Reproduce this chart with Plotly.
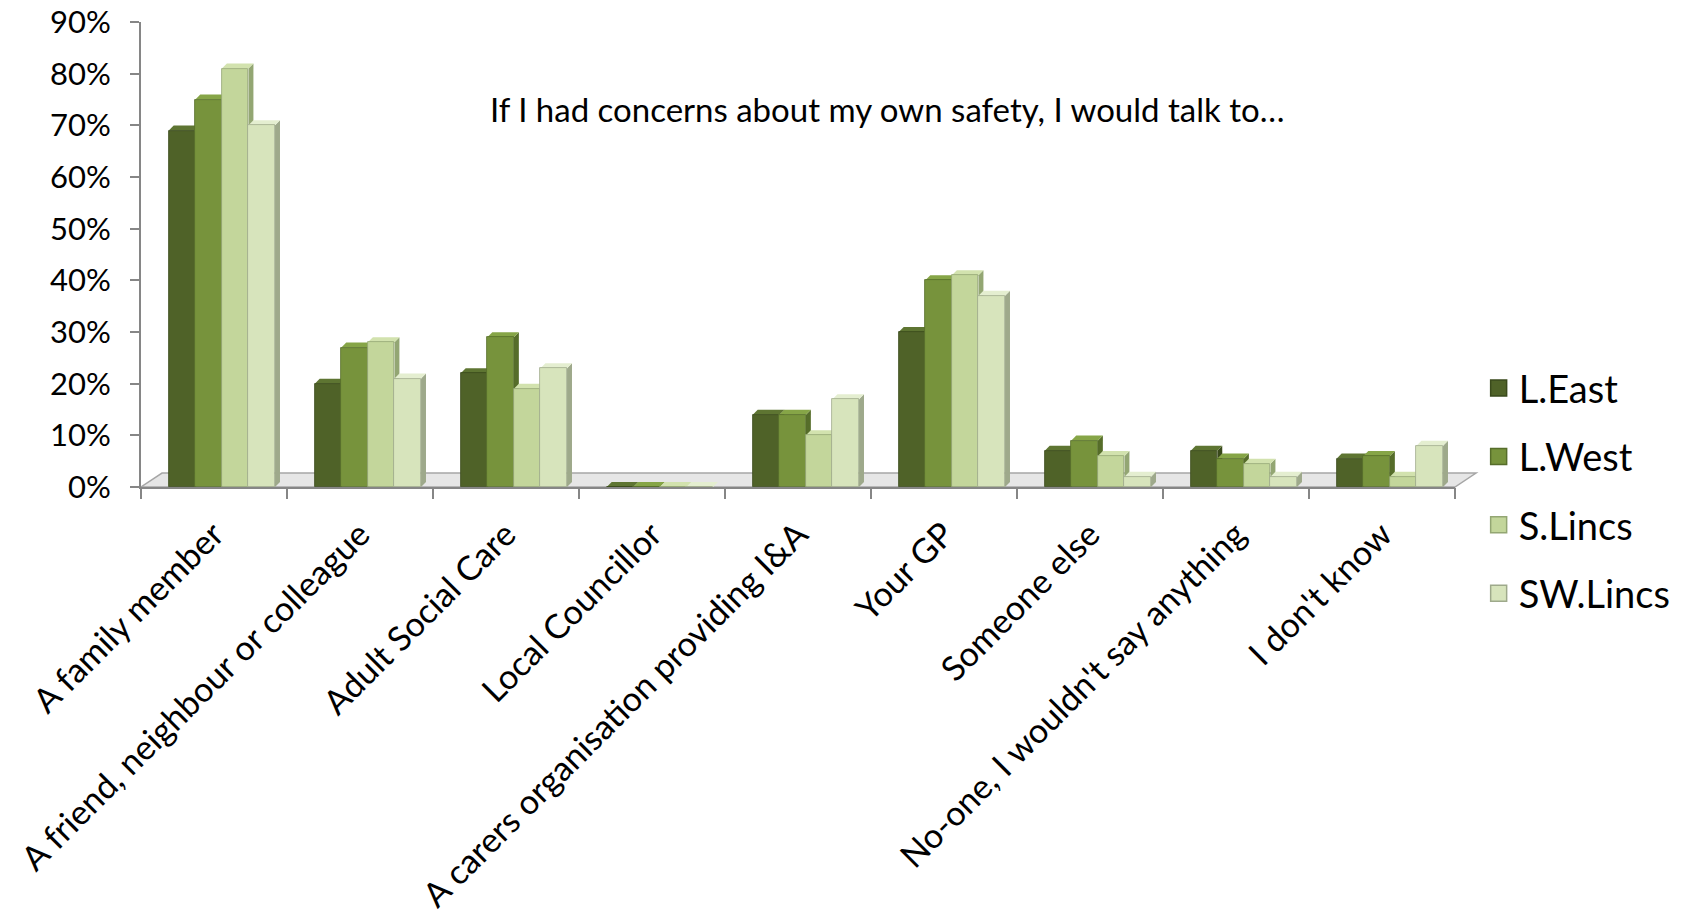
import plotly.graph_objects as go

# Survey responses: "If I had concerns about my own safety, I would talk to..."
categories = [
    "A family member",
    "A friend, neighbour or colleague",
    "Adult Social Care",
    "Local Councillor",
    "A carers organisation providing I&A",
    "Your GP",
    "Someone else",
    "No-one, I wouldn't say anything",
    "I don't know",
]
series_names = ["L.East", "L.West", "S.Lincs", "SW.Lincs"]
l_east = [0.69, 0.20, 0.22, 0.00, 0.14, 0.30, 0.07, 0.07, 0.055]
l_west = [0.75, 0.27, 0.29, 0.00, 0.14, 0.40, 0.09, 0.055, 0.06]
s_lincs = [0.81, 0.28, 0.19, 0.00, 0.10, 0.41, 0.06, 0.045, 0.02]
sw_lincs = [0.70, 0.21, 0.23, 0.00, 0.17, 0.37, 0.02, 0.02, 0.08]
series_values = [l_east, l_west, s_lincs, sw_lincs]
y_ticks = [0.0, 0.1, 0.2, 0.3, 0.4, 0.5, 0.6, 0.7, 0.8, 0.9]
y_tick_labels = ["0%", "10%", "20%", "30%", "40%", "50%", "60%", "70%", "80%", "90%"]

# front, side and top face colours for each series
front_colors = ["#4f6228", "#77933c", "#c3d69b", "#d7e4bc"]
side_colors = ["#3a4a1c", "#566d2a", "#93a673", "#9ea98b"]
top_colors = ["#5e7532", "#86a547", "#d2e2ae", "#e4eed0"]

FONT = "Lato"
BAR_W = 0.182          # width of one column in category units
GROUP_START = -0.31    # left edge of the first column relative to category centre
DEPTH_X = 0.034        # oblique depth of each column (category units)
DEPTH_Y = 0.0096       # oblique depth of each column (value units)

fig = go.Figure()
x_idx = list(range(len(categories)))

shapes = []
# floor slab under the columns
shapes.append(dict(
    type="path", xref="paper", yref="paper",
    path="M 0,0 L 1,0 L 1.016,0.03 L 0.016,0.03 Z",
    fillcolor="#e6e6e6", line=dict(color="#a6a6a6", width=1.5), layer="below",
))

for k, (name, vals) in enumerate(zip(series_names, series_values)):
    offset = GROUP_START + k * BAR_W
    fig.add_trace(go.Bar(
        x=x_idx, y=vals, name=name,
        width=BAR_W, offset=offset,
        marker=dict(color=front_colors[k], line=dict(color=side_colors[k], width=0.8)),
        legendgroup=name, showlegend=False,
        hovertemplate="%{y:.0%}<extra>" + name + "</extra>",
    ))
    # legend key drawn as a larger square swatch
    fig.add_trace(go.Scatter(
        x=[None], y=[None], mode="markers", name=name, legendgroup=name,
        marker=dict(symbol="square", size=22, color=front_colors[k],
                    line=dict(color=side_colors[k], width=1.5)),
        showlegend=True, hoverinfo="skip",
    ))
    # side and top faces give the columns their depth
    for i, v in zip(x_idx, vals):
        xl = i + offset
        xr = xl + BAR_W
        shapes.append(dict(
            type="path", xref="x", yref="y", layer="below",
            path=f"M {xr},0 L {xr + DEPTH_X},{DEPTH_Y} L {xr + DEPTH_X},{v + DEPTH_Y} L {xr},{v} Z",
            fillcolor=side_colors[k], line=dict(width=0),
        ))
        shapes.append(dict(
            type="path", xref="x", yref="y", layer="below",
            path=f"M {xl},{v} L {xl + DEPTH_X},{v + DEPTH_Y} L {xr + DEPTH_X},{v + DEPTH_Y} L {xr},{v} Z",
            fillcolor=top_colors[k], line=dict(width=0),
        ))

fig.update_layout(
    width=1690, height=919,
    margin=dict(l=141, r=235, t=22, b=432),
    paper_bgcolor="white", plot_bgcolor="white",
    font=dict(family=FONT, color="black"),
    barmode="group", bargap=0, bargroupgap=0,
    shapes=shapes,
    showlegend=True,
    legend=dict(
        x=1.018, y=0.28, xanchor="left", yanchor="top",
        font=dict(size=38, family=FONT),
        tracegroupgap=16, itemclick=False, itemsizing="trace",
    ),
    annotations=[dict(
        text="If I had concerns about my own safety, I would talk to…",
        xref="paper", yref="paper", x=0.568, y=0.812,
        xanchor="center", yanchor="middle", showarrow=False,
        font=dict(size=33, family=FONT, color="black"),
    )],
)

fig.update_xaxes(
    type="linear", range=[-0.5, len(categories) - 0.5],
    tickmode="array", tickvals=x_idx, ticktext=categories,
    tickangle=-45, tickfont=dict(size=34, family=FONT), ticklabelstandoff=12,
    ticklabeloverflow="allow",
    showline=True, linecolor="#868686", linewidth=2,
    ticks="", showgrid=False, zeroline=False, automargin=False,
)
# category boundary tick marks on a matching overlay axis
fig.update_layout(xaxis2=dict(
    overlaying="x", matches="x", side="bottom", anchor="y",
    tickmode="array", tickvals=[i - 0.5 for i in range(len(categories) + 1)],
    ticks="outside", ticklen=11, tickwidth=2, tickcolor="#868686",
    showticklabels=False, showgrid=False, zeroline=False, showline=False,
    automargin=False,
))
fig.add_trace(go.Scatter(x=[0], y=[0], xaxis="x2", yaxis="y", mode="none",
                         showlegend=False, hoverinfo="skip"))

fig.update_yaxes(
    range=[0, 0.9], tickmode="array", tickvals=y_ticks, ticktext=y_tick_labels,
    tickfont=dict(size=31, family=FONT), ticklabelstandoff=13,
    ticklabeloverflow="allow",
    showline=True, linecolor="#868686", linewidth=2,
    ticks="outside", ticklen=9, tickwidth=2, tickcolor="#868686",
    showgrid=False, zeroline=False, automargin=False,
)

fig.write_html("out.html")
